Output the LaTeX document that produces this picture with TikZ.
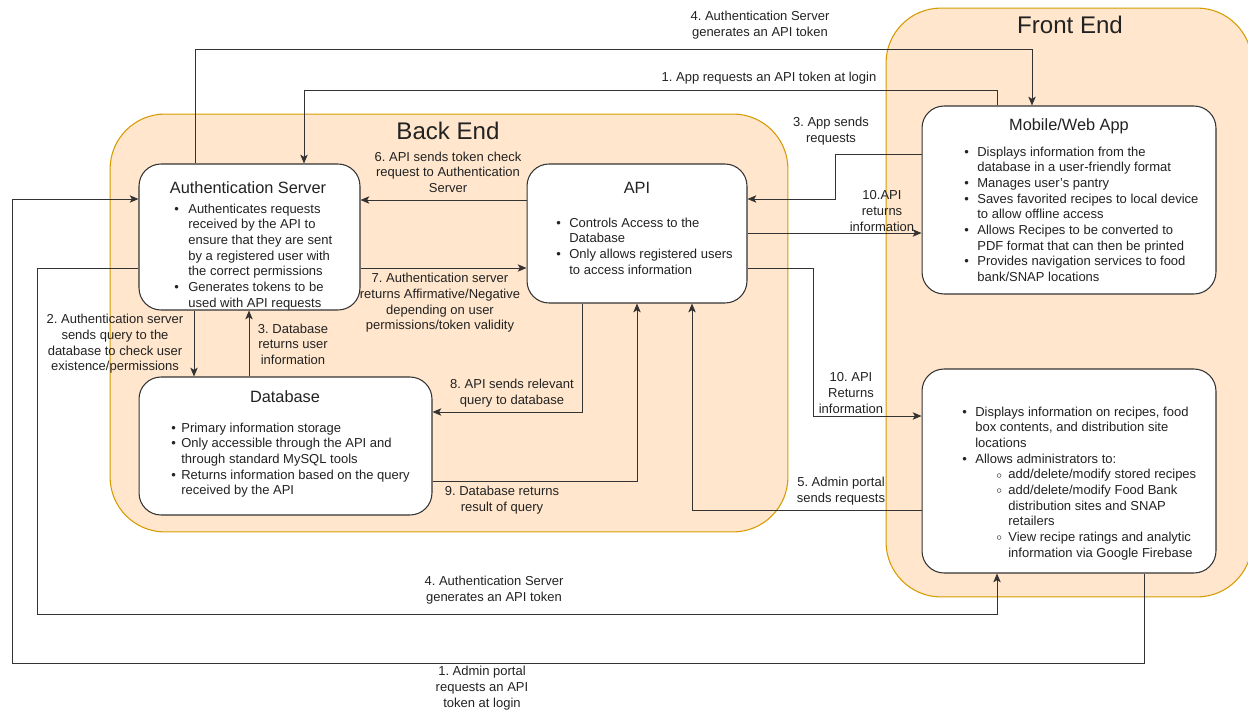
\documentclass[tikz,border=0pt]{standalone}
\usepackage{fontspec}
\setmainfont{Liberation Sans}
\usetikzlibrary{arrows.meta, positioning}

\definecolor{grpfill}{HTML}{FFE6CC}
\definecolor{grpline}{HTML}{D79B00}
\definecolor{txt}{HTML}{222222}
\newcommand{\bodyfont}{\fontsize{7.4}{8.9}\selectfont}
\newcommand{\subb}{\hspace*{0.42cm}\makebox[0.24cm][l]{\raisebox{0.3pt}{\scalebox{0.8}{$\circ$}}}}
\newcommand{\subc}{\hspace*{0.66cm}}
\frenchspacing

\begin{document}
\begin{tikzpicture}[x=0.02cm, y=-0.02cm,
    group/.style={draw=grpline, fill=grpfill, rounded corners=1.1cm, line width=0.6pt},
    box/.style={draw=black!80, fill=white, rounded corners=0.44cm, line width=0.6pt},
    grouptitle/.style={font=\fontsize{13.7}{16}\selectfont, text=txt},
    boxtitle/.style={font=\fontsize{9.3}{11}\selectfont, text=txt},
    blist/.style={anchor=north west, inner sep=0pt, font=\bodyfont, text=txt},
    lbl/.style={align=center, inner sep=0pt, font=\bodyfont, text=txt},
    link/.style={draw=black!80, line width=0.55pt, -{Stealth[length=5pt,width=4.2pt,inset=1.2pt]}},
    line/.style={draw=black!80, line width=0.55pt}]
    \useasboundingbox (0,0) rectangle (1248,710);

    % Groups
    \node[group, minimum width=13.56cm, minimum height=8.36cm] (backend) at (449,323) {};
    \node[group, minimum width=7.32cm, minimum height=11.78cm] (frontend) at (1069,302.5) {};
    \node[grouptitle] (backT) at (448,131) {Back End};
    \node[grouptitle] (frontT) at (1070,25) {Front End};

    % Authentication Server
    \node[box, minimum width=4.42cm, minimum height=2.92cm] (auth) at (249.5,237) {};
    \node[boxtitle] (authT) at (248,188) {Authentication Server};
    \node[blist] (authL) at (174,202) {\begin{tabular}{@{}p{0.28cm}@{}l@{}}
        \textbullet & Authenticates requests\\
        & received by the API to\\
        & ensure that they are sent\\
        & by a registered user with\\
        & the correct permissions\\
        \textbullet & Generates tokens to be\\
        & used with API requests
    \end{tabular}};

    % API
    \node[box, minimum width=4.4cm, minimum height=2.78cm] (api) at (637,233.5) {};
    \node[boxtitle] (apiT) at (637,188) {API};
    \node[blist] (apiL) at (556,216) {\begin{tabular}{@{}p{0.26cm}@{}l@{}}
        \textbullet & Controls Access to the\\
        & Database\\
        \textbullet & Only allows registered users\\
        & to access information
    \end{tabular}};

    % Database
    \node[box, minimum width=5.86cm, minimum height=2.76cm] (db) at (285.5,446) {};
    \node[boxtitle] (dbT) at (285,397) {Database};
    \node[blist] (dbL) at (171,421) {\begin{tabular}{@{}p{0.2cm}@{}l@{}}
        \textbullet & Primary information storage\\
        \textbullet & Only accessible through the API and\\
        & through standard MySQL tools\\
        \textbullet & Returns information based on the query\\
        & received by the API
    \end{tabular}};

    % Mobile/Web App
    \node[box, minimum width=5.88cm, minimum height=3.76cm] (app) at (1069,200) {};
    \node[boxtitle] (appT) at (1069,126) {Mobile/Web App};
    \node[blist] (appL) at (964,145) {\begin{tabular}{@{}p{0.26cm}@{}l@{}}
        \textbullet & Displays information from the\\
        & database in a user-friendly format\\
        \textbullet & Manages user's pantry\\
        \textbullet & Saves favorited recipes to local device\\
        & to allow offline access\\
        \textbullet & Allows Recipes to be converted to\\
        & PDF format that can then be printed\\
        \textbullet & Provides navigation services to food\\
        & bank/SNAP locations
    \end{tabular}};

    % Admin portal
    \node[box, minimum width=5.88cm, minimum height=4.08cm] (admin) at (1069,471) {};
    \node[blist] (adminL) at (962,405) {\begin{tabular}{@{}p{0.26cm}@{}l@{}}
        \textbullet & Displays information on recipes, food\\
        & box contents, and distribution site\\
        & locations\\
        \textbullet & Allows administrators to:\\
        & \subb add/delete/modify stored recipes\\
        & \subb add/delete/modify Food Bank\\
        & \subc distribution sites and SNAP\\
        & \subc retailers\\
        & \subb View recipe ratings and analytic\\
        & \subc information via Google Firebase
    \end{tabular}};

    % Token exchange with the app
    \draw[link] (auth.north -| 195,0) |- (1032,49) -- (app.north -| 1032,0);
    \node[lbl] (l4t) at (760,25) {4. Authentication Server\\generates an API token};
    \draw[link] (app.north -| 997,0) |- (304,90) -- (auth.north -| 304,0);
    \node[lbl] (l1t) at (769,78) {1. App requests an API token at login};

    % App and API
    \draw[link] (app.west |- 0,154) -| (835,199) -- (api.east |- 0,199);
    \node[lbl] (l3app) at (831,131) {3. App sends\\requests};
    \draw[link] (api.east |- 0,233) -- (app.west |- 0,233);
    \node[lbl] (l10a) at (882,211) {10.API\\returns\\information};

    % Admin portal and API
    \draw[link] (api.east |- 0,268) -| (813,416) -- (admin.west |- 0,416);
    \node[lbl] (l10b) at (851,393) {10. API\\Returns\\information};
    \draw[link] (admin.west |- 0,510) -| (api.south -| 692,0);
    \node[lbl] (l5) at (841,491) {5. Admin portal\\sends requests};

    % API and Authentication Server
    \draw[link] (api.west |- 0,200) -- (auth.east |- 0,200);
    \node[lbl] (l6) at (448,172) {6. API sends token check\\request to Authentication\\Server};
    \draw[link] (auth.east |- 0,268) -- (api.west |- 0,268);
    \node[lbl] (l7) at (440,303) {7. Authentication server\\returns Affirmative/Negative\\depending on user\\permissions/token validity};

    % Authentication Server and Database
    \draw[link] (auth.south -| 194,0) -- (db.north -| 194,0);
    \node[lbl] (l2) at (115,344) {2. Authentication server\\sends query to the\\database to check user\\existence/permissions};
    \draw[link] (db.north -| 249,0) -- (auth.south -| 249,0);
    \node[lbl] (l3db) at (293,344) {3. Database\\returns user\\information};

    % API and Database
    \draw[link] (api.south -| 582,0) |- (db.east |- 0,412);
    \node[lbl] (l8) at (512,393) {8. API sends relevant\\query to database};
    \draw[link] (db.east |- 0,481) -| (api.south -| 637,0);
    \node[lbl] (l9) at (502,500) {9. Database returns\\result of query};

    % Token exchange with the admin portal
    \draw[link] (auth.west |- 0,268) -| (37,614) -| (admin.south -| 997,0);
    \node[lbl] (l4b) at (494,590) {4. Authentication Server\\generates an API token};
    \draw[link] (admin.south -| 1144,0) |- (12,663) |- (auth.west |- 0,199);
    \node[lbl] (l1b) at (482,688) {1. Admin portal\\requests an API\\token at login};
\end{tikzpicture}
\end{document}
